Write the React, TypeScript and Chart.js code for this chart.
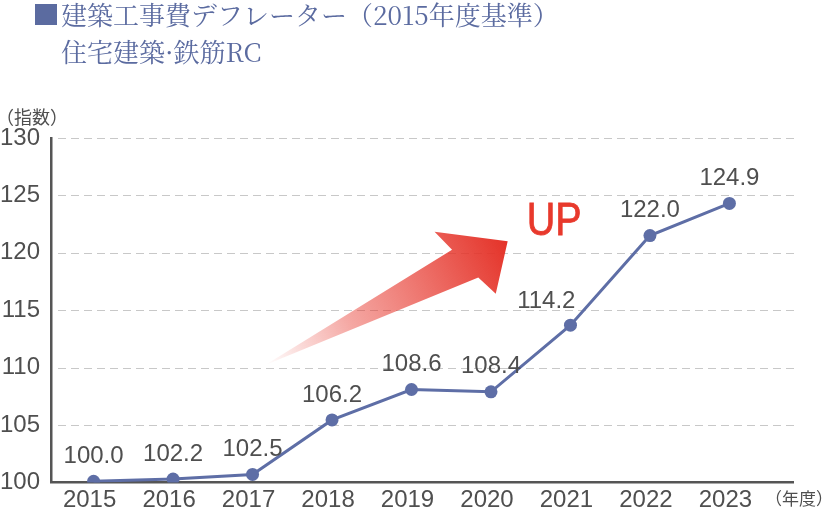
import React, { useEffect, useRef } from "react";
import { Chart, registerables } from "chart.js";

Chart.register(...registerables);

const years = ["2015", "2016", "2017", "2018", "2019", "2020", "2021", "2022", "2023"];
// plotted positions
const values = [100.1, 100.3, 100.7, 105.45, 108.1, 107.9, 113.7, 121.5, 124.3];
// printed data labels
const labels = ["100.0", "102.2", "102.5", "106.2", "108.6", "108.4", "114.2", "122.0", "124.9"];
const labelAlign = ["center", "center", "center", "center", "center", "center", "right", "center", "center"];
const yTicks = [100, 105, 110, 115, 120, 125, 130];

const titleLine1 = "建築工事費デフレーター（2015年度基準）";
const titleLine2 = "住宅建築·鉄筋RC";
const yUnit = "（指数）";
const xUnit = "（年度）";
const upText = "UP";

const NUM_FONT = "'Liberation Sans', Arial, Helvetica, sans-serif";
const JP_FONT = "'Noto Serif CJK JP', 'Noto Sans CJK JP', serif";
const JP_SANS = "'Noto Sans CJK JP', sans-serif";
const LINE_COLOR = "#5e6ea6";
const TEXT_COLOR = "#4f4f4f";

const decorPlugin = {
  id: "decor",
  beforeDatasetsDraw(chart: any) {
    const ctx = chart.ctx;
    const { left, right } = chart.chartArea;
    const ys = chart.scales.y;
    const xs = chart.scales.x;
    ctx.save();
    // dashed grid lines
    ctx.strokeStyle = "#c8c8c8";
    ctx.lineWidth = 1;
    ctx.setLineDash([8, 5]);
    yTicks.forEach((v) => {
      if (v === yTicks[0]) return;
      const py = Math.round(ys.getPixelForValue(v)) + 0.5;
      ctx.beginPath();
      ctx.moveTo(left + 7, py);
      ctx.lineTo(right + 2, py);
      ctx.stroke();
    });
    ctx.setLineDash([]);

    // gradient arrow
    const P = (x: number, y: number) => [xs.getPixelForValue(x), ys.getPixelForValue(y)];
    const tail = P(2.16, 110.24);
    const lowNotch = P(4.84, 117.86);
    const lowBarb = P(5.06, 116.43);
    const tip = P(5.21, 121.0);
    const upBarb = P(4.29, 121.84);
    const upNotch = P(4.51, 120.27);
    const g = ctx.createLinearGradient(tail[0], tail[1], tip[0], tip[1]);
    g.addColorStop(0, "rgba(232,60,50,0.0)");
    g.addColorStop(0.35, "rgba(232,60,50,0.45)");
    g.addColorStop(1, "rgba(228,50,40,1)");
    ctx.fillStyle = g;
    ctx.beginPath();
    ctx.moveTo(tail[0], tail[1]);
    ctx.lineTo(lowNotch[0], lowNotch[1]);
    ctx.lineTo(lowBarb[0], lowBarb[1]);
    ctx.lineTo(tip[0], tip[1]);
    ctx.lineTo(upBarb[0], upBarb[1]);
    ctx.lineTo(upNotch[0], upNotch[1]);
    ctx.closePath();
    ctx.fill();

    // UP text
    const up = P(5.45, 122.65);
    ctx.save();
    ctx.translate(up[0], up[1]);
    ctx.scale(0.86, 1);
    ctx.fillStyle = "#e8392c";
    ctx.strokeStyle = "#e8392c";
    ctx.lineWidth = 0.8;
    ctx.font = `46px ${NUM_FONT}`;
    ctx.textAlign = "left";
    ctx.textBaseline = "middle";
    ctx.fillText(upText, 0, 0);
    ctx.strokeText(upText, 0, 0);
    ctx.restore();
    ctx.restore();
  },
  afterDatasetsDraw(chart: any) {
    const ctx = chart.ctx;
    const meta = chart.getDatasetMeta(0);
    ctx.save();
    ctx.fillStyle = TEXT_COLOR;
    ctx.font = `24px ${NUM_FONT}`;
    ctx.textBaseline = "middle";
    meta.data.forEach((pt: any, i: number) => {
      const a = labelAlign[i];
      if (a === "right") {
        ctx.textAlign = "right";
        ctx.fillText(labels[i], pt.x + 5, pt.y - 24);
      } else {
        ctx.textAlign = "center";
        ctx.fillText(labels[i], pt.x, pt.y - 25);
      }
    });
    ctx.restore();
  },
  afterDraw(chart: any) {
    const ctx = chart.ctx;
    ctx.save();
    // title
    ctx.fillStyle = "#5b6ba0";
    ctx.fillRect(35, 4, 22, 21);
    ctx.font = `26px ${JP_FONT}`;
    ctx.textAlign = "left";
    ctx.textBaseline = "middle";
    ctx.fillText(titleLine1, 61, 15);
    ctx.fillText(titleLine2, 61, 52);
    // units
    ctx.fillStyle = TEXT_COLOR;
    ctx.font = `18px ${JP_SANS}`;
    ctx.fillText(yUnit, -4, 117);
    ctx.font = `17px ${JP_SANS}`;
    ctx.fillText(xUnit, 765, 499);
    ctx.restore();
  },
};

export default function App() {
  const ref = useRef<HTMLCanvasElement | null>(null);
  useEffect(() => {
    if (!ref.current) return;
    const chart = new Chart(ref.current, {
      type: "line",
      data: {
        datasets: [
          {
            data: values.map((v, i) => ({ x: i, y: v })),
            borderColor: LINE_COLOR,
            backgroundColor: LINE_COLOR,
            borderWidth: 3,
            pointRadius: 6.5,
            pointBackgroundColor: LINE_COLOR,
            pointBorderWidth: 0,
            tension: 0,
          },
        ],
      },
      options: {
        animation: false,
        responsive: true,
        maintainAspectRatio: false,
        layout: { padding: { top: 138, left: 0, right: 32, bottom: 0 } },
        plugins: { legend: { display: false }, tooltip: { enabled: false } },
        scales: {
          x: {
            type: "linear",
            min: -0.536,
            max: 8.8,
            afterBuildTicks: (s: any) => {
              s.ticks = years.map((_, i) => ({ value: i }));
            },
            afterFit: (s: any) => {
              s.height = 26.5;
            },
            grid: { display: false, drawTicks: false },
            border: { display: true, color: "#555555", width: 2.5 },
            ticks: {
              autoSkip: false,
              maxRotation: 0,
              padding: 3,
              labelOffset: -4,
              color: TEXT_COLOR,
              font: { family: NUM_FONT, size: 24 },
              callback: (v: any) => years[Math.round(Number(v))] ?? "",
            },
          },
          y: {
            min: 100,
            max: 130,
            afterBuildTicks: (s: any) => {
              s.ticks = yTicks.map((v) => ({ value: v }));
            },
            afterFit: (s: any) => {
              s.width = 51;
            },
            grid: { display: false, drawTicks: false },
            border: { display: true, color: "#555555", width: 2.5 },
            ticks: {
              padding: 11,
              color: TEXT_COLOR,
              font: { family: NUM_FONT, size: 24 },
              callback: (v: any) => String(v),
            },
          },
        },
      },
      plugins: [decorPlugin],
    } as any);
    return () => chart.destroy();
  }, []);
  return (
    <div style={{ position: "absolute", left: 0, top: 0, width: 825, height: 509, background: "#fff" }}>
      <canvas ref={ref} />
    </div>
  );
}
